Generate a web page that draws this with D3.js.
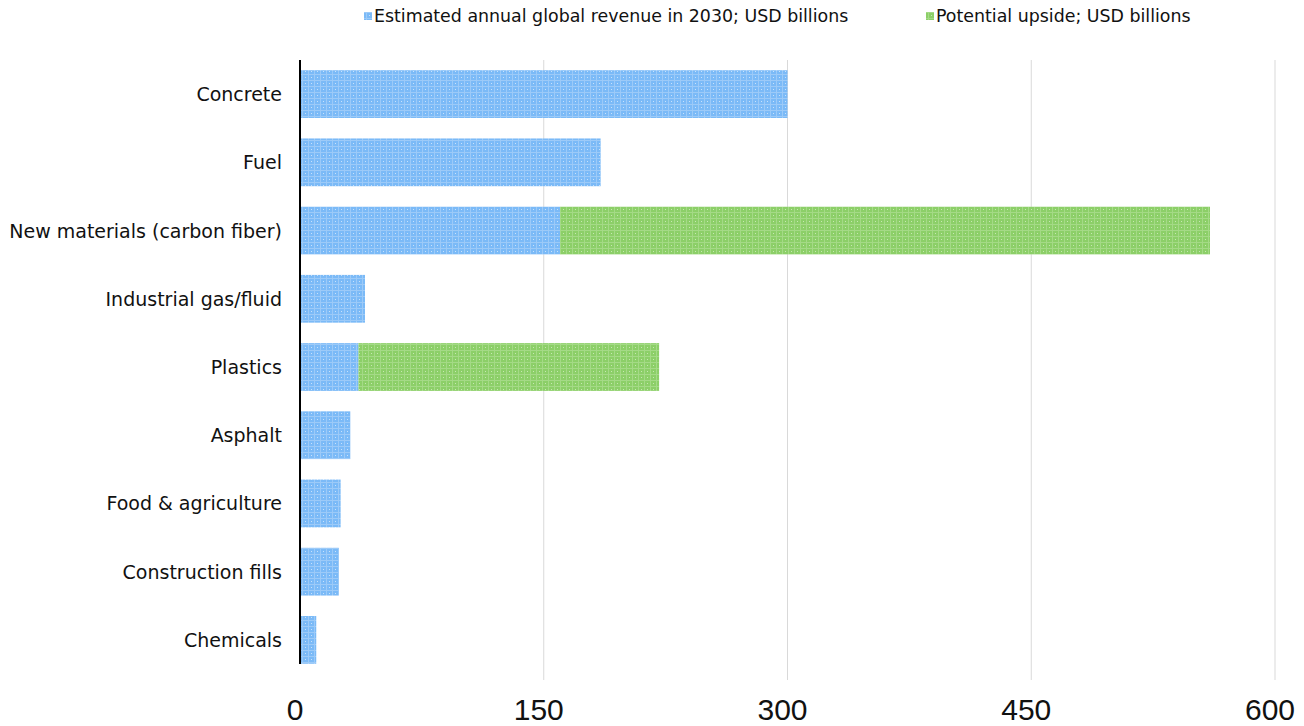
<!DOCTYPE html>
<html>
<head>
<meta charset="utf-8">
<script src="https://cdn.jsdelivr.net/npm/d3@7"></script>
<style>
  body { margin: 0; background: #fff; }
  text { font-family: "DejaVu Sans", sans-serif; fill: #111; }
</style>
</head>
<body>
<svg id="chart" width="1304" height="726"></svg>
<script>
const categories = ["Concrete", "Fuel", "New materials (carbon fiber)", "Industrial gas/fluid",
  "Plastics", "Asphalt", "Food & agriculture", "Construction fills", "Chemicals"];
const revenue2030 = [300, 185, 160, 40, 36, 31, 25, 24, 10];
const upside = [0, 0, 400, 0, 185, 0, 0, 0, 0];
const seriesNames = ["Estimated annual global revenue in 2030; USD billions", "Potential upside; USD billions"];
const xTicks = [0, 150, 300, 450, 600];

const svg = d3.select("#chart");
const margin = { left: 300, right: 29, top: 60, bottom: 52 };
const width = +svg.attr("width");
const height = +svg.attr("height");

const x = d3.scaleLinear().domain([0, 600]).range([margin.left, width - margin.right]);
const y = d3.scaleBand().domain(categories).range([margin.top, height - margin.bottom]).paddingInner(0.3).paddingOuter(0.15);

// plaid-like textures for the bars
const defs = svg.append("defs");
function makePattern(id, base, line, dot) {
  const p = defs.append("pattern").attr("id", id).attr("patternUnits", "userSpaceOnUse")
    .attr("width", 6).attr("height", 6);
  p.append("rect").attr("width", 6).attr("height", 6).attr("fill", base);
  p.append("rect").attr("x", 0).attr("y", 2).attr("width", 6).attr("height", 1).attr("fill", line);
  p.append("rect").attr("x", 2).attr("y", 0).attr("width", 1).attr("height", 6).attr("fill", line);
  p.append("rect").attr("x", 5).attr("y", 5).attr("width", 1).attr("height", 1).attr("fill", dot);
}
makePattern("blueTex", "#7bbaf7", "#9ccaf8", "#c8e2fb");
makePattern("greenTex", "#8ccf68", "#a4da86", "#c6e8b2");
const fills = ["url(#blueTex)", "url(#greenTex)"];

// gridlines
svg.append("g").selectAll("line").data(xTicks.slice(1)).join("line")
  .attr("x1", d => x(d)).attr("x2", d => x(d))
  .attr("y1", margin.top).attr("y2", height - margin.bottom + 6)
  .attr("stroke", "#d9d9d9").attr("stroke-width", 1);

// bars
const rows = categories.map((c, i) => ({ c, a: revenue2030[i], b: upside[i] }));
svg.append("g").selectAll("rect").data(rows).join("rect")
  .attr("x", x(0)).attr("y", d => y(d.c))
  .attr("width", d => x(d.a) - x(0)).attr("height", y.bandwidth())
  .attr("fill", fills[0]);
svg.append("g").selectAll("rect").data(rows.filter(d => d.b > 0)).join("rect")
  .attr("x", d => x(d.a)).attr("y", d => y(d.c))
  .attr("width", d => x(d.a + d.b) - x(d.a)).attr("height", y.bandwidth())
  .attr("fill", fills[1]);

// y axis line
svg.append("line").attr("x1", x(0)).attr("x2", x(0))
  .attr("y1", margin.top).attr("y2", height - margin.bottom - 10)
  .attr("stroke", "#000").attr("stroke-width", 2);

// category labels
svg.append("g").selectAll("text").data(categories).join("text")
  .attr("x", x(0) - 18).attr("y", d => y(d) + y.bandwidth() / 2)
  .attr("text-anchor", "end").attr("dominant-baseline", "central")
  .attr("font-size", 19).text(d => d);

// tick labels
svg.append("g").selectAll("text").data(xTicks).join("text")
  .attr("x", d => x(d) - 5).attr("y", 720)
  .attr("text-anchor", "middle")
  .style("font-family", "'Liberation Sans', Arial, sans-serif")
  .attr("font-size", 30).text(d => d);

// legend
const legendX = [364, 926];
const lg = svg.append("g").selectAll("g").data(seriesNames).join("g")
  .attr("transform", (d, i) => `translate(${legendX[i]},16)`);
lg.append("rect").attr("x", 0).attr("y", -4).attr("width", 8).attr("height", 8)
  .attr("fill", (d, i) => fills[i]);
lg.append("text").attr("x", 10).attr("y", 0).attr("dominant-baseline", "central")
  .attr("font-size", 17.4).text(d => d);
</script>
</body>
</html>
